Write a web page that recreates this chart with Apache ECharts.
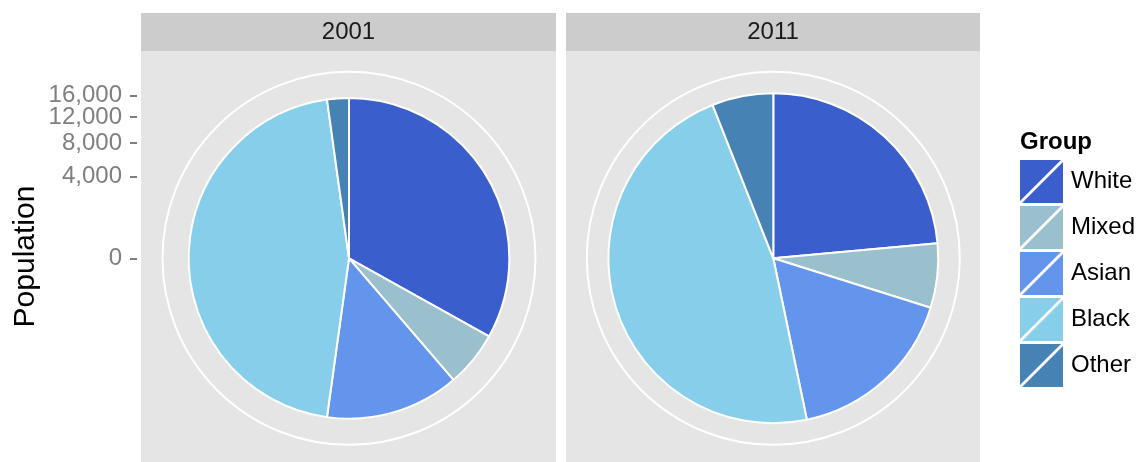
<!DOCTYPE html>
<html>
<head>
<meta charset="utf-8">
<script src="https://cdn.jsdelivr.net/npm/echarts@6/dist/echarts.min.js"></script>
<style>
  html, body { margin: 0; padding: 0; background: #fff; }
  #chart { width: 1140px; height: 462px; }
</style>
</head>
<body>
<div id="chart"></div>
<script>
var years = ["2001", "2011"];
var groups = ["White", "Mixed", "Asian", "Black", "Other"];
var pop2001 = [5130, 870, 2090, 7070, 340];
var pop2011 = [3860, 1035, 2770, 7750, 985];
var popTicks = [0, 4000, 8000, 12000, 16000];
var groupColors = ["#3A5FCD", "#9AC0CD", "#6495ED", "#87CEEB", "#4682B4"];
var radialMax = 20970; // outer limit of the sqrt radial scale

var font = "Liberation Sans, Arial, sans-serif";
var ringR = 186.5;
var centers = [[349, 258.3], [773.3, 258.3]];
var panels = [{ left: 141, width: 415 }, { left: 566, width: 414 }];

// sqrt radial scale, same as the left axis
function rScale(v) {
  return ringR * Math.sqrt(v / radialMax);
}
function sum(a) {
  return a.reduce(function (s, v) { return s + v; }, 0);
}

var chart = echarts.init(document.getElementById("chart"), null, { renderer: "canvas" });

var grids = [];
var xAxes = [];
var yAxes = [];
// panel backgrounds + strips
panels.forEach(function (p, i) {
  grids.push({ left: p.left, width: p.width, top: 51, bottom: 0, show: true,
    backgroundColor: "#E5E5E5", borderWidth: 0, z: 0 });
  grids.push({ left: p.left, width: p.width, top: 13, height: 38, show: true,
    backgroundColor: "#CCCCCC", borderWidth: 0, z: 0 });
});
grids.forEach(function (g, i) {
  xAxes.push({ gridIndex: i, type: "value", show: false });
  yAxes.push({ gridIndex: i, type: "value", show: false });
});
// axis title on first panel
yAxes[0] = {
  gridIndex: 0, type: "value", show: true,
  axisLine: { show: false }, axisTick: { show: false }, axisLabel: { show: false },
  splitLine: { show: false },
  name: "Population", nameLocation: "middle", nameGap: 100,
  nameTextStyle: { fontFamily: font, fontSize: 30, color: "#000" }
};
// radial population axis (sqrt units); split in two so the close labels
// at the top are not dropped by the overlap check
grids.push({ left: 137, width: 1, top: centers[0][1] - ringR, height: ringR, show: false });
xAxes.push({ gridIndex: 4, type: "value", show: false });
[0, 1].forEach(function (part) {
  var vals = popTicks.filter(function (t, i) { return i % 2 === part; }).map(Math.sqrt);
  yAxes.push({
    gridIndex: 4, type: "value", position: "left", offset: 0,
    min: 0, max: Math.sqrt(radialMax),
    axisLine: { show: false },
    splitLine: { show: false },
    axisTick: { show: true, length: 7, lineStyle: { color: "#7F7F7F", width: 2 },
      customValues: vals },
    axisLabel: {
      show: true, margin: 15, fontFamily: font, fontSize: 24, color: "#7F7F7F",
      hideOverlap: false, showMinLabel: true, showMaxLabel: true,
      customValues: vals,
      formatter: function (v) { return Math.round(v * v).toLocaleString("en-US"); }
    }
  });
});

var titles = years.map(function (y, i) {
  return {
    text: y, left: panels[i].left + panels[i].width / 2, top: 32, padding: 0,
    textAlign: "center", textVerticalAlign: "middle",
    textStyle: { fontFamily: font, fontSize: 24, fontWeight: "normal", color: "#1A1A1A" }
  };
});
titles.push({
  text: "Group", left: 1020, top: 142, padding: 0,
  textAlign: "left", textVerticalAlign: "middle",
  textStyle: { fontFamily: font, fontSize: 24, fontWeight: "bold", color: "#000" }
});

var polars = centers.map(function (c) { return { center: c, radius: ringR }; });
var angleAxes = centers.map(function (c, i) {
  return {
    polarIndex: i, type: "value", min: 0, max: 1, z: 3,
    axisLine: { show: true, lineStyle: { color: "#fff", width: 2 } },
    axisTick: { show: false }, axisLabel: { show: false }, splitLine: { show: false }
  };
});
var radiusAxes = centers.map(function (c, i) {
  return { polarIndex: i, type: "value", show: false, min: 0, max: 1 };
});

var yearData = [pop2001, pop2011];
var series = yearData.map(function (vals, i) {
  return {
    type: "pie",
    name: years[i],
    center: centers[i],
    radius: rScale(sum(vals)),
    startAngle: 90,
    clockwise: true,
    avoidLabelOverlap: false,
    label: { show: false },
    labelLine: { show: false },
    emphasis: { scale: false },
    itemStyle: { borderColor: "#fff", borderWidth: 2 },
    z: 5,
    data: groups.map(function (g, k) {
      return { name: g, value: vals[k], itemStyle: { color: groupColors[k] } };
    })
  };
});

chart.setOption({
  animation: false,
  backgroundColor: "#fff",
  title: titles,
  grid: grids,
  xAxis: xAxes,
  yAxis: yAxes,
  polar: polars,
  angleAxis: angleAxes,
  radiusAxis: radiusAxes,
  legend: {
    orient: "vertical",
    left: 1020,
    top: 160,
    padding: 0,
    itemWidth: 43,
    itemHeight: 43,
    itemGap: 3,
    icon: "path://M0,0L41,0L0,41Z M43,2L43,43L2,43Z",
    itemStyle: { borderWidth: 0 },
    data: groups,
    textStyle: { fontFamily: font, fontSize: 24, color: "#000", padding: [0, 0, 0, 3] }
  },
  series: series
});
</script>
</body>
</html>
